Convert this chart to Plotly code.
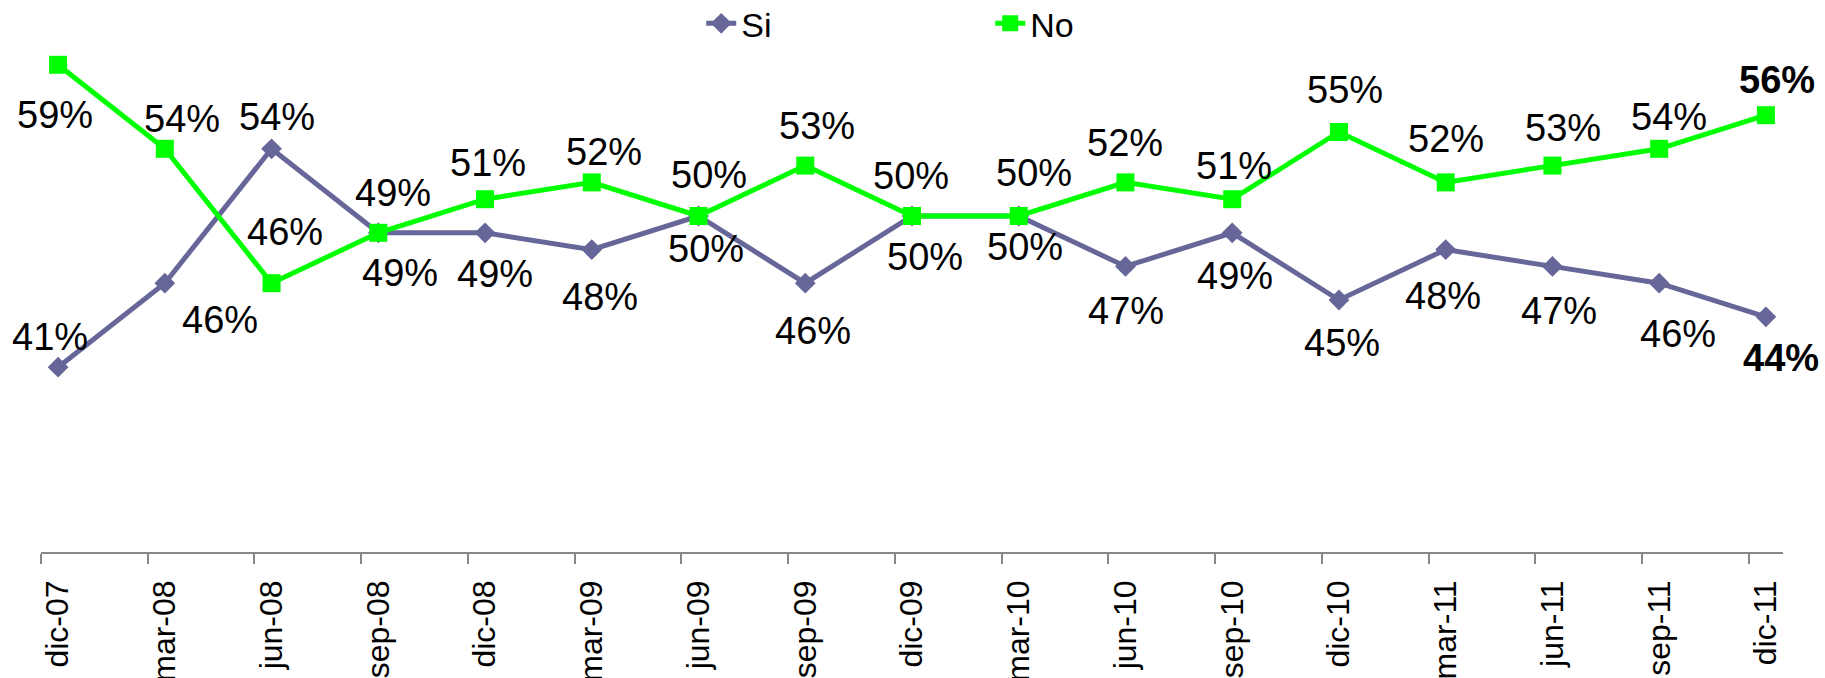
import plotly.graph_objects as go

categories = ["dic-07", "mar-08", "jun-08", "sep-08", "dic-08", "mar-09", "jun-09", "sep-09",
              "dic-09", "mar-10", "jun-10", "sep-10", "dic-10", "mar-11", "jun-11", "sep-11", "dic-11"]
si_values = [41, 46, 54, 49, 49, 48, 50, 46, 50, 50, 47, 49, 45, 48, 47, 46, 44]
no_values = [59, 54, 46, 49, 51, 52, 50, 53, 50, 50, 52, 51, 55, 52, 53, 54, 56]

# label offsets in pixels (style only)
si_dx = [-8, 55, 5, 22, 10, 8, 7, 8, 13, 6, 1, 3, 3, -3, 7, 19, 15]
si_dy = [-30, 37, -32, 40, 41, 47, 33, 48, 41, 31, 45, 43, 43, 46, 45, 51, 41]
no_dx = [-3, 17, 13, 15, 3, 12, 10, 12, -1, 15, 0, 2, 6, 0, 11, 10, 11]
no_dy = [50, -30, -51, -40, -36, -30, -41, -40, -40, -43, -39, -33, -42, -43, -38, -32, -35]

FONT = "Liberation Sans, Arial, sans-serif"
SI_COLOR = "#666699"
NO_COLOR = "#00FF00"

fig = go.Figure()
fig.add_trace(go.Scatter(x=categories, y=si_values, name="Si", mode="lines+markers",
                         line=dict(color=SI_COLOR, width=5),
                         marker=dict(symbol="diamond", size=16, color=SI_COLOR)))
fig.add_trace(go.Scatter(x=categories, y=no_values, name="No", mode="lines+markers",
                         line=dict(color=NO_COLOR, width=5),
                         marker=dict(symbol="square", size=18, color=NO_COLOR)))

n = len(categories)
last = n - 1
annotations = []
for vals, dxs, dys in ((si_values, si_dx, si_dy), (no_values, no_dx, no_dy)):
    for i, (c, v) in enumerate(zip(categories, vals)):
        txt = f"{v}%"
        if i == last:
            txt = f"<b>{txt}</b>"
        annotations.append(dict(x=c, y=v, xref="x", yref="y", text=txt, showarrow=False,
                                xshift=dxs[i], yshift=-dys[i],
                                font=dict(family=FONT, size=38, color="black")))

pad = 0.16
fig.update_layout(
    width=1825, height=678,
    margin=dict(l=41, r=42, t=48, b=126, autoexpand=False),
    paper_bgcolor="white", plot_bgcolor="white",
    font=dict(family=FONT, color="black"),
    showlegend=True,
    legend=dict(orientation="h", x=0.379, xanchor="left", y=0.965, yanchor="middle",
                yref="container", entrywidth=244, font=dict(size=34, family=FONT),
                bgcolor="rgba(0,0,0,0)"),
    annotations=annotations,
    xaxis=dict(type="category", range=[-pad, n - 1 + pad], showline=False, showgrid=False,
               zeroline=False, ticks="", tickangle=-90, ticklabelstandoff=21,
               tickfont=dict(size=32, family=FONT, color="black")),
    xaxis2=dict(overlaying="x", anchor="y", side="bottom", range=[-pad, n - 1 + pad],
                tickmode="array", tickvals=[i - pad for i in range(n)], showticklabels=False,
                ticks="outside", ticklen=10, tickwidth=2, tickcolor="#888888",
                showline=True, linecolor="#888888", linewidth=2, showgrid=False, zeroline=False),
    yaxis=dict(range=[30, 60], visible=False, showgrid=False, zeroline=False),
)
# invisible trace to activate xaxis2
fig.add_trace(go.Scatter(x=[0], y=[30], xaxis="x2", mode="markers", marker=dict(opacity=0),
                         showlegend=False, hoverinfo="skip"))

fig.write_html("out.html", config={"displayModeBar": False},
               post_script="document.body.style.margin='0';")
